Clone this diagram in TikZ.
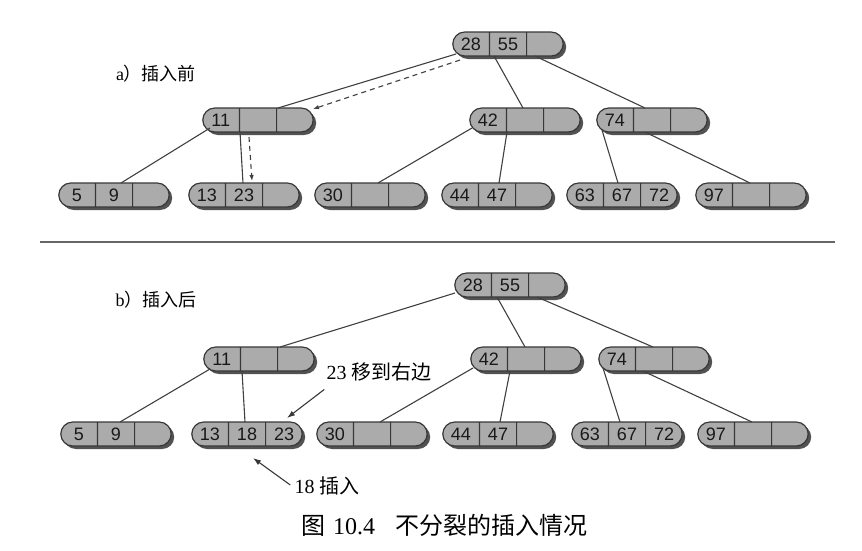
\documentclass[tikz,border=0pt]{standalone}
\usepackage{fontspec}
\setmainfont{Liberation Serif}
\newfontfamily\cjk{Noto Sans CJK SC}
\newfontfamily\numfont{Liberation Sans}
\usetikzlibrary{shapes.multipart,shadows,arrows.meta}
\tikzset{
	bnode/.style={rectangle split, rectangle split horizontal, rectangle split parts=3,
		rectangle split ignore empty parts=false, draw=black!78, line width=1.2pt,
		fill=black!33, rounded corners=12pt, text width=34pt, align=center,
		inner xsep=1pt, inner ysep=0pt, minimum height=24pt,
		font=\numfont\fontsize{18}{18}\selectfont, text=black!90,
		drop shadow={shadow xshift=3pt, shadow yshift=-3pt, fill=black!68, opacity=1}},
	link/.style={draw=black!75, line width=1.1pt},
	move/.style={link, dash pattern=on 5pt off 4pt, -{Latex[length=6pt,width=4.5pt]}},
	note/.style={draw=black!78, line width=1.1pt, -{Latex[length=8pt,width=5.5pt]}},
	lbl/.style={inner sep=0pt, font=\fontsize{18}{18}\selectfont}
}
\begin{document}
\begin{tikzpicture}[x=1pt, y=-1pt]
	\useasboundingbox (0,0) rectangle (862,550);
	% before the insertion
	\node[bnode] (ra) at (508,44) {28 \nodepart{two} 55 \nodepart{three}};
	\foreach \x/\name/\ka in {258/a11/11, 525/a42/42, 652/a74/74} {
		\node[bnode] (\name) at (\x,120) {\ka \nodepart{two} \nodepart{three}};
	}
	\foreach \x/\name/\ka/\kb/\kc in {114/a59/5/9/{}, 244/a1323/13/23/{}, 370/a30/30/{}/{}, 497/a4447/44/47/{}, 622/a636772/63/67/72, 751/a97/97/{}/{}} {
		\node[bnode] (\name) at (\x,195) {\ka \nodepart{two} \kb \nodepart{three} \kc};
	}
	\node[lbl] (la) at (156,74) {a{\cjk ）插入前}};

	\draw[link] ([shift={(-52,10)}]ra.center) -- ([shift={(20,-12)}]a11.center);
	\draw[link] ([shift={(-14,12)}]ra.center) -- ([shift={(-2,-12)}]a42.center);
	\draw[link] ([shift={(27,12)}]ra.center) -- ([shift={(-7,-12)}]a74.center);
	\draw[move] ([shift={(-48,16)}]ra.center) -- ([shift={(55,-11)}]a11.center);
	\draw[link] ([shift={(-48,8)}]a11.center) -- ([shift={(7,-12)}]a59.center);
	\draw[link] ([shift={(-18,12)}]a11.center) -- ([shift={(-1,-12)}]a1323.center);
	\draw[move] ([shift={(-9,17)}]a11.center) -- ([shift={(8,-14)}]a1323.center);
	\draw[link] ([shift={(-53,8)}]a42.center) -- ([shift={(8,-12)}]a30.center);
	\draw[link] ([shift={(-18,12)}]a42.center) -- ([shift={(2,-12)}]a4447.center);
	\draw[link] ([shift={(-50,10)}]a74.center) -- ([shift={(-4,-12)}]a636772.center);
	\draw[link] ([shift={(-7,12)}]a74.center) -- ([shift={(-1,-12)}]a97.center);

	\draw[draw=black!60, line width=1.1pt] (40,242) -- (835,242);

	% after the insertion
	\node[bnode] (rb) at (510,285) {28 \nodepart{two} 55 \nodepart{three}};
	\foreach \x/\name/\ka in {259/b11/11, 526/b42/42, 654/b74/74} {
		\node[bnode] (\name) at (\x,359) {\ka \nodepart{two} \nodepart{three}};
	}
	\foreach \x/\name/\ka/\kb/\kc in {116/b59/5/9/{}, 247/b131823/13/18/23, 372/b30/30/{}/{}, 498/b4447/44/47/{}, 627/b636772/63/67/72, 753/b97/97/{}/{}} {
		\node[bnode] (\name) at (\x,434) {\ka \nodepart{two} \kb \nodepart{three} \kc};
	}
	\node[lbl] (lb) at (156,300) {b{\cjk ）插入后}};
	\node[lbl, font=\fontsize{20}{20}\selectfont] (lmove) at (379,372) {23 {\cjk 移到右边}};
	\node[lbl, font=\fontsize{20}{20}\selectfont] (lins) at (327,486) {18 {\cjk 插入}};

	\draw[link] ([shift={(-55,8)}]rb.center) -- ([shift={(21,-12)}]b11.center);
	\draw[link] ([shift={(-13,12)}]rb.center) -- ([shift={(-1,-12)}]b42.center);
	\draw[link] ([shift={(27,12)}]rb.center) -- ([shift={(-1,-12)}]b74.center);
	\draw[link] ([shift={(-49,10)}]b11.center) -- ([shift={(4,-12)}]b59.center);
	\draw[link] ([shift={(-17,12)}]b11.center) -- ([shift={(-2,-12)}]b131823.center);
	\draw[link] ([shift={(-53,9)}]b42.center) -- ([shift={(8,-12)}]b30.center);
	\draw[link] ([shift={(-16,12)}]b42.center) -- ([shift={(2,-12)}]b4447.center);
	\draw[link] ([shift={(-51,9)}]b74.center) -- ([shift={(-7,-12)}]b636772.center);
	\draw[link] ([shift={(-11,12)}]b74.center) -- ([shift={(-1,-12)}]b97.center);
	\draw[note] ([shift={(-2,8)}]lmove.south west) -- ([shift={(40,-16)}]b131823.center);
	\draw[note] ([shift={(-4,-1)}]lins.west) -- ([shift={(6,24)}]b131823.center);

	\node[font=\fontsize{24}{24}\selectfont] (cap) at (444,525) {{\cjk 图}\hspace{8pt}10.4\hspace{20pt}{\cjk 不分裂的插入情况}};
\end{tikzpicture}
\end{document}
